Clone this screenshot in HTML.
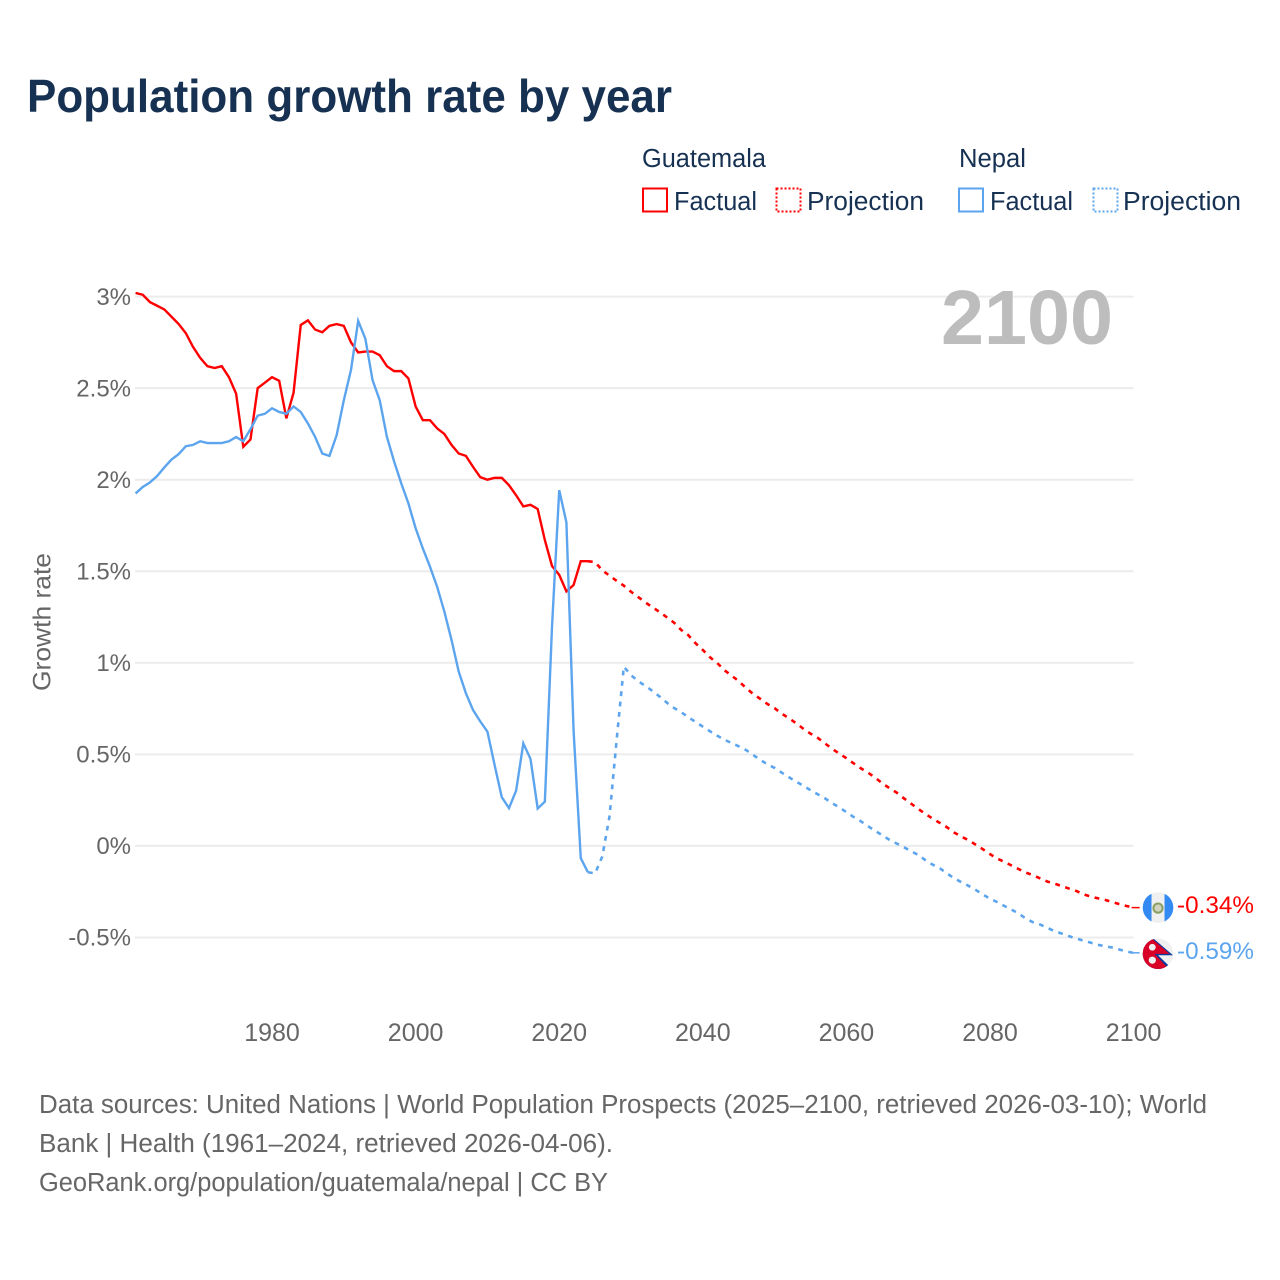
<!DOCTYPE html>
<html lang="en">
<head>
<meta charset="utf-8">
<title>Population growth rate by year</title>
<style>
html,body{margin:0;padding:0;background:#fff;}
svg{display:block;font-family:"Liberation Sans",sans-serif;}
</style>
</head>
<body>
<svg id="chart" xmlns="http://www.w3.org/2000/svg" width="1280" height="1280" viewBox="0 0 1280 1280">
  <rect x="0" y="0" width="1280" height="1280" fill="#ffffff"/>
  <text x="27" y="112" font-size="46.5" font-weight="700" fill="#163152" textLength="645" lengthAdjust="spacingAndGlyphs">Population growth rate by year</text>

  <g font-size="25.5" fill="#163152">
    <text x="642" y="167" textLength="124" lengthAdjust="spacingAndGlyphs">Guatemala</text>
    <text x="959" y="167" textLength="67" lengthAdjust="spacingAndGlyphs">Nepal</text>
    <rect x="643" y="188.5" width="24" height="23" fill="none" stroke="#ff0000" stroke-width="2"/>
    <text x="674" y="210" textLength="83" lengthAdjust="spacingAndGlyphs">Factual</text>
    <rect x="776.5" y="188.5" width="24" height="23" fill="none" stroke="#ff0000" stroke-width="2" stroke-dasharray="2 2"/>
    <text x="807" y="210" textLength="117" lengthAdjust="spacingAndGlyphs">Projection</text>
    <rect x="959" y="188.5" width="24" height="23" fill="none" stroke="#5ca5ee" stroke-width="2"/>
    <text x="990" y="210" textLength="83" lengthAdjust="spacingAndGlyphs">Factual</text>
    <rect x="1093.5" y="188.5" width="24" height="23" fill="none" stroke="#5ca5ee" stroke-width="2" stroke-dasharray="2 2"/>
    <text x="1123" y="210" textLength="118" lengthAdjust="spacingAndGlyphs">Projection</text>
  </g>

  <g id="grid"></g>
  <g id="yticks"></g>
  <g id="xticks"></g>

  <text x="1113" y="344" font-size="77" font-weight="700" fill="#bdbdbd" text-anchor="end" textLength="172" lengthAdjust="spacingAndGlyphs">2100</text>
  <text transform="translate(50.5,691) rotate(-90)" font-size="25" fill="#666666" textLength="138" lengthAdjust="spacingAndGlyphs">Growth rate</text>

  <g id="series"></g>

  <defs>
    <clipPath id="flag-clip"><circle cx="0" cy="0" r="15.3"/></clipPath>
  </defs>
  <g id="flag-guatemala" clip-path="url(#flag-clip)">
    <rect x="-16" y="-16" width="32" height="32" fill="#f0f0f0"/>
    <rect x="-16" y="-16" width="9.5" height="32" fill="#338af3"/>
    <rect x="6.5" y="-16" width="9.5" height="32" fill="#338af3"/>
    <circle cx="0" cy="0.5" r="4.6" fill="#d2d2c0" stroke="#8aa062" stroke-width="2"/>
  </g>
  <g id="flag-nepal" clip-path="url(#flag-clip)">
    <rect x="-16" y="-16" width="32" height="32" fill="#f0f0f0"/>
    <polygon points="-16,-16 -5.5,-16 15,1.5 0,1.5 15,16 -16,16" fill="#0a3a9c"/>
    <polygon points="-16,-16 -7,-16 11.5,0.2 -3.5,0.2 11.5,16 -16,16" fill="#d80027"/>
    <circle cx="-5.7" cy="-6.5" r="3.4" fill="#f0f0f0"/>
    <circle cx="-5.7" cy="6.5" r="3.6" fill="#f0f0f0"/>
  </g>
  <g id="endlabels"></g>

  <g font-size="25.5" fill="#666666">
    <text x="39" y="1113" textLength="1168" lengthAdjust="spacingAndGlyphs">Data sources: United Nations | World Population Prospects (2025–2100, retrieved 2026-03-10); World</text>
    <text x="39" y="1152" textLength="574" lengthAdjust="spacingAndGlyphs">Bank | Health (1961–2024, retrieved 2026-04-06).</text>
    <text x="39" y="1191" textLength="569" lengthAdjust="spacingAndGlyphs">GeoRank.org/population/guatemala/nepal | CC BY</text>
  </g>
</svg>
<script>
const factualStartYear = 1961;
const projectionStartYear = 2024;
const yTickValues = [3, 2.5, 2, 1.5, 1, 0.5, 0, -0.5];
const yTickLabels = ["3%", "2.5%", "2%", "1.5%", "1%", "0.5%", "0%", "-0.5%"];
const xTickYears = [1980, 2000, 2020, 2040, 2060, 2080, 2100];
const xTickLabels = ["1980", "2000", "2020", "2040", "2060", "2080", "2100"];
const endLabels = ["-0.34%", "-0.59%"];

// 1961–2024
const guatemalaFactual = [3.02,3.01,2.97,2.95,2.93,2.89,2.85,2.80,2.725,2.665,2.62,2.61,2.62,2.56,2.47,2.18,2.22,2.50,2.53,2.56,2.54,2.335,2.475,2.845,2.87,2.82,2.805,2.84,2.85,2.84,2.75,2.695,2.70,2.70,2.68,2.62,2.593,2.593,2.553,2.40,2.325,2.325,2.28,2.25,2.19,2.143,2.13,2.07,2.014,2.00,2.01,2.01,1.97,1.915,1.854,1.863,1.84,1.67,1.528,1.48,1.39,1.425,1.555,1.555];
// 2024–2100
const guatemalaProjection = [1.555,1.55,1.505,1.476,1.448,1.421,1.388,1.359,1.33,1.303,1.277,1.248,1.219,1.179,1.15,1.106,1.07,1.03,0.999,0.96,0.93,0.90,0.863,0.83,0.803,0.775,0.752,0.722,0.697,0.67,0.64,0.613,0.59,0.56,0.531,0.504,0.479,0.451,0.424,0.40,0.373,0.342,0.315,0.291,0.26,0.231,0.202,0.175,0.149,0.126,0.102,0.073,0.051,0.031,0.007,-0.018,-0.045,-0.069,-0.087,-0.107,-0.127,-0.146,-0.16,-0.178,-0.195,-0.206,-0.22,-0.233,-0.246,-0.264,-0.277,-0.286,-0.295,-0.306,-0.318,-0.328,-0.337];
// 1961–2024
const nepalFactual = [1.925,1.96,1.985,2.02,2.067,2.11,2.14,2.183,2.19,2.21,2.20,2.20,2.20,2.21,2.233,2.21,2.276,2.35,2.36,2.39,2.37,2.36,2.40,2.37,2.307,2.234,2.143,2.13,2.243,2.434,2.60,2.867,2.77,2.544,2.434,2.234,2.10,1.98,1.87,1.735,1.625,1.525,1.415,1.28,1.125,0.952,0.834,0.742,0.68,0.624,0.442,0.266,0.206,0.302,0.56,0.475,0.204,0.242,1.2,1.943,1.767,0.63,-0.067,-0.144];
// 2024–2100
const nepalProjection = [-0.144,-0.15,-0.058,0.16,0.58,0.979,0.932,0.90,0.873,0.846,0.815,0.782,0.753,0.73,0.702,0.677,0.651,0.626,0.602,0.58,0.562,0.544,0.524,0.497,0.47,0.445,0.426,0.40,0.375,0.351,0.329,0.304,0.282,0.26,0.233,0.211,0.184,0.158,0.135,0.108,0.082,0.058,0.033,0.013,-0.007,-0.029,-0.049,-0.078,-0.102,-0.122,-0.15,-0.177,-0.198,-0.218,-0.24,-0.266,-0.288,-0.307,-0.328,-0.348,-0.37,-0.397,-0.417,-0.43,-0.448,-0.466,-0.479,-0.493,-0.506,-0.517,-0.528,-0.54,-0.548,-0.555,-0.566,-0.577,-0.584];

const NS = "http://www.w3.org/2000/svg";
const RED = "#ff0000";
const BLUE = "#5ca5ee";
function xScale(year) { return 135.6 + (year - 1961) * 7.18; }
function yScale(value) { return 845.9 - 183.1 * value; }
function node(tag, parent) {
  const el = document.createElementNS(NS, tag);
  parent.appendChild(el);
  return el;
}
function pathFrom(values, startYear) {
  return values.map(function (v, i) {
    return (i ? "L" : "M") + xScale(startYear + i).toFixed(2) + " " + yScale(v).toFixed(2);
  }).join(" ");
}

const grid = document.getElementById("grid");
const yticks = document.getElementById("yticks");
yTickValues.forEach(function (v, i) {
  const line = node("line", grid);
  
  
  line.setAttribute("x1", xScale(1961) - 0.6);
  line.setAttribute("x2", xScale(2100));
  line.setAttribute("y1", yScale(v));
  line.setAttribute("y2", yScale(v));
  line.setAttribute("stroke", "#ececec");
  line.setAttribute("stroke-width", "2");
  const t = node("text", yticks);
  
  
  t.setAttribute("x", "131");
  t.setAttribute("y", yScale(v) + 8.2);
  t.setAttribute("text-anchor", "end");
  t.setAttribute("font-size", "24");
  t.setAttribute("fill", "#666666");
  t.textContent = yTickLabels[i];
});

const xticks = document.getElementById("xticks");
xTickYears.forEach(function (year, i) {
  const t = node("text", xticks);
  
  
  t.setAttribute("x", xScale(year));
  t.setAttribute("y", "1041");
  t.setAttribute("text-anchor", "middle");
  t.setAttribute("font-size", "25");
  t.setAttribute("fill", "#666666");
  t.textContent = xTickLabels[i];
});

const series = document.getElementById("series");

const guatemalaFactualLine = node("path", series);


guatemalaFactualLine.setAttribute("d", pathFrom(guatemalaFactual, factualStartYear));
guatemalaFactualLine.setAttribute("fill", "none");
guatemalaFactualLine.setAttribute("stroke", RED);
guatemalaFactualLine.setAttribute("stroke-width", "2.4");

const guatemalaProjectionLine = node("path", series);


guatemalaProjectionLine.setAttribute("d", pathFrom(guatemalaProjection, projectionStartYear));
guatemalaProjectionLine.setAttribute("fill", "none");
guatemalaProjectionLine.setAttribute("stroke", RED);
guatemalaProjectionLine.setAttribute("stroke-width", "2.6");
guatemalaProjectionLine.setAttribute("stroke-dasharray", "4.8 5.6");

const nepalFactualLine = node("path", series);


nepalFactualLine.setAttribute("d", pathFrom(nepalFactual, factualStartYear));
nepalFactualLine.setAttribute("fill", "none");
nepalFactualLine.setAttribute("stroke", BLUE);
nepalFactualLine.setAttribute("stroke-width", "2.4");

const nepalProjectionLine = node("path", series);


nepalProjectionLine.setAttribute("d", pathFrom(nepalProjection, projectionStartYear));
nepalProjectionLine.setAttribute("fill", "none");
nepalProjectionLine.setAttribute("stroke", BLUE);
nepalProjectionLine.setAttribute("stroke-width", "2.6");
nepalProjectionLine.setAttribute("stroke-dasharray", "4.8 5.6");

const lastGuatemala = guatemalaProjection[guatemalaProjection.length - 1];
const lastNepal = nepalProjection[nepalProjection.length - 1];
const endX = xScale(2100);
const labelGroup = document.getElementById("endlabels");

const connectorGuatemala = node("line", series);


connectorGuatemala.setAttribute("x1", endX - 2);
connectorGuatemala.setAttribute("x2", endX + 6);
connectorGuatemala.setAttribute("y1", yScale(lastGuatemala));
connectorGuatemala.setAttribute("y2", yScale(lastGuatemala));
connectorGuatemala.setAttribute("stroke", RED);
connectorGuatemala.setAttribute("stroke-width", "1.5");

const connectorNepal = node("line", series);


connectorNepal.setAttribute("x1", endX - 2);
connectorNepal.setAttribute("x2", endX + 6);
connectorNepal.setAttribute("y1", yScale(lastNepal));
connectorNepal.setAttribute("y2", yScale(lastNepal));
connectorNepal.setAttribute("stroke", BLUE);
connectorNepal.setAttribute("stroke-width", "1.5");

document.getElementById("flag-guatemala").setAttribute("transform", "translate(" + (endX + 24.4) + "," + yScale(lastGuatemala) + ")");
document.getElementById("flag-nepal").setAttribute("transform", "translate(" + (endX + 24.4) + "," + (yScale(lastNepal) + 0.9) + ")");

const labelGuatemala = node("text", labelGroup);


labelGuatemala.setAttribute("x", endX + 43.4);
labelGuatemala.setAttribute("y", yScale(lastGuatemala) + 5.6);
labelGuatemala.setAttribute("font-size", "24.3");
labelGuatemala.setAttribute("fill", RED);
labelGuatemala.textContent = endLabels[0];

const labelNepal = node("text", labelGroup);


labelNepal.setAttribute("x", endX + 43.4);
labelNepal.setAttribute("y", yScale(lastNepal) + 6.4);
labelNepal.setAttribute("font-size", "24.3");
labelNepal.setAttribute("fill", BLUE);
labelNepal.textContent = endLabels[1];
</script>
</body>
</html>
